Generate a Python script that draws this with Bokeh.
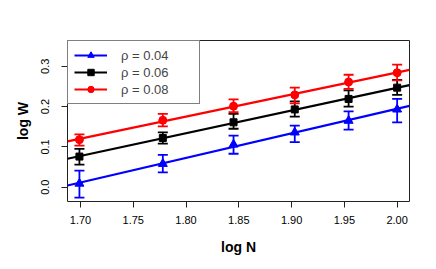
import numpy as np
from bokeh.plotting import figure
from bokeh.models import (Range1d, FixedTicker, NumeralTickFormatter, Whisker, TeeHead,
                          ColumnDataSource, Legend, LegendItem)
from bokeh.embed import file_html
from bokeh.resources import INLINE

# ---- data ----
log_n = [1.699, 1.778, 1.845, 1.903, 1.954, 2.000]
labels = ["ρ = 0.04", "ρ = 0.06", "ρ = 0.08"]
colors = ["#0000FF", "#000000", "#FF0000"]
markers = ["triangle", "square", "circle"]
w_004 = [0.009, 0.058, 0.106, 0.136, 0.165, 0.193]
lo_004 = [-0.026, 0.037, 0.083, 0.112, 0.143, 0.161]
hi_004 = [0.041, 0.080, 0.128, 0.153, 0.188, 0.219]
w_006 = [0.076, 0.122, 0.161, 0.193, 0.219, 0.247]
lo_006 = [0.056, 0.108, 0.145, 0.175, 0.200, 0.229]
hi_006 = [0.095, 0.136, 0.182, 0.213, 0.240, 0.266]
w_008 = [0.118, 0.166, 0.201, 0.229, 0.261, 0.284]
lo_008 = [0.103, 0.151, 0.186, 0.208, 0.244, 0.265]
hi_008 = [0.131, 0.182, 0.218, 0.247, 0.279, 0.304]
x_ticks = [1.70, 1.75, 1.80, 1.85, 1.90, 1.95, 2.00]
y_ticks = [0.0, 0.1, 0.2, 0.3]

series = [(w_004, lo_004, hi_004), (w_006, lo_006, hi_006), (w_008, lo_008, hi_008)]
sizes = [9, 7, 8]

FONT = "Liberation Sans"

xr = Range1d(1.6877, 2.0117)
yr = Range1d(-0.0355, 0.364)

p = figure(width=436, height=269, x_range=xr, y_range=yr,
           output_backend="svg", toolbar_location=None,
           min_border_left=67, min_border_right=27, min_border_top=40, min_border_bottom=68)
p.grid.visible = False
p.outline_line_color = "#222222"
p.outline_line_width = 1
p.background_fill_color = "white"
p.border_fill_color = "white"

for ax in (p.xaxis[0], p.yaxis[0]):
    ax.axis_line_color = None
    ax.major_tick_out = 6
    ax.major_tick_in = 0
    ax.minor_tick_line_color = None
    ax.major_tick_line_color = "#222222"
    ax.major_label_text_font = FONT
    ax.major_label_text_font_size = "11px"
    ax.major_label_text_color = "#000000"
    ax.axis_label_text_font = FONT
    ax.axis_label_text_font_size = "14px"
    ax.axis_label_text_font_style = "bold"
    ax.axis_label_text_color = "#000000"

p.xaxis.ticker = FixedTicker(ticks=x_ticks)
p.xaxis.formatter = NumeralTickFormatter(format="0.00")
p.xaxis.axis_label = "log N"
p.xaxis.major_label_standoff = 8
p.xaxis.axis_label_standoff = 12

p.yaxis.ticker = FixedTicker(ticks=y_ticks)
p.yaxis.formatter = NumeralTickFormatter(format="0.0")
p.yaxis.axis_label = "log W"
p.yaxis.major_label_orientation = "vertical"
p.yaxis.major_label_standoff = 12
p.yaxis.axis_label_standoff = 8

items = []
for (w, lo, hi), col, mk, sz, lab in zip(series, colors, markers, sizes, labels):
    slope, icpt = np.polyfit(log_n, w, 1)
    xs = [xr.start, xr.end]
    ln = p.line(xs, [icpt + slope * x for x in xs], line_color=col, line_width=2.2)
    src = ColumnDataSource(dict(x=log_n, y=w, lo=lo, hi=hi))
    wh = Whisker(source=src, base="x", lower="lo", upper="hi", dimension="height",
                 line_color=col, line_width=1.8,
                 upper_head=TeeHead(size=10, line_color=col, line_width=1.8),
                 lower_head=TeeHead(size=10, line_color=col, line_width=1.8))
    p.add_layout(wh)
    sc = p.scatter("x", "y", source=src, marker=mk, size=sz, fill_color=col, line_color=col)
    items.append(LegendItem(label=lab, renderers=[ln, sc]))

legend = Legend(items=items, location="top_left", margin=0, padding=6,
                glyph_width=33, glyph_height=16, label_height=16, spacing=1,
                label_standoff=14, label_width=72,
                label_text_font=FONT, label_text_font_size="13px",
                border_line_color="#000000", border_line_width=1,
                background_fill_color="white", background_fill_alpha=1.0)
p.add_layout(legend, "center")

open("out.html", "w").write(file_html(p, INLINE))
